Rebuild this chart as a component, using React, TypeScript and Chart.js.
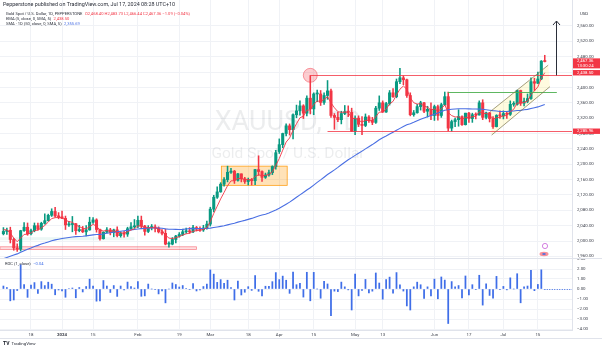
import React, { useEffect, useRef } from "react";
import { Chart, registerables } from "chart.js";
Chart.register(...registerables);

const FONT = "Roboto, 'Liberation Sans', Arial, sans-serif";
const UP = "#089981";
const DOWN = "#f23645";
const BLUE_SMA = "#4a6fe3";
const BLUE_ROC = "#3f6ee8";

// Trading sessions (daily bars)
const sessions = [
  "2023-12-06","2023-12-07","2023-12-08","2023-12-11","2023-12-12","2023-12-13","2023-12-14","2023-12-15",
  "2023-12-18","2023-12-19","2023-12-20","2023-12-21","2023-12-22","2023-12-26","2023-12-27","2023-12-28","2023-12-29",
  "2024-01-02","2024-01-03","2024-01-04","2024-01-05","2024-01-08","2024-01-09","2024-01-10","2024-01-11","2024-01-12",
  "2024-01-15","2024-01-16","2024-01-17","2024-01-18","2024-01-19","2024-01-22","2024-01-23","2024-01-24","2024-01-25",
  "2024-01-26","2024-01-29","2024-01-30","2024-01-31",
  "2024-02-01","2024-02-02","2024-02-05","2024-02-06","2024-02-07","2024-02-08","2024-02-09","2024-02-12","2024-02-13",
  "2024-02-14","2024-02-15","2024-02-16","2024-02-19","2024-02-20","2024-02-21","2024-02-22","2024-02-23","2024-02-26",
  "2024-02-27","2024-02-28","2024-02-29",
  "2024-03-01","2024-03-04","2024-03-05","2024-03-06","2024-03-07","2024-03-08","2024-03-11","2024-03-12","2024-03-13",
  "2024-03-14","2024-03-15","2024-03-18","2024-03-19","2024-03-20","2024-03-21","2024-03-22","2024-03-25","2024-03-26",
  "2024-03-27","2024-03-28",
  "2024-04-01","2024-04-02","2024-04-03","2024-04-04","2024-04-05","2024-04-08","2024-04-09","2024-04-10","2024-04-11",
  "2024-04-12","2024-04-15","2024-04-16","2024-04-17","2024-04-18","2024-04-19","2024-04-22","2024-04-23","2024-04-24",
  "2024-04-25","2024-04-26","2024-04-29","2024-04-30",
  "2024-05-01","2024-05-02","2024-05-03","2024-05-06","2024-05-07","2024-05-08","2024-05-09","2024-05-10","2024-05-13",
  "2024-05-14","2024-05-15","2024-05-16","2024-05-17","2024-05-20","2024-05-21","2024-05-22","2024-05-23","2024-05-24",
  "2024-05-27","2024-05-28","2024-05-29","2024-05-30","2024-05-31",
  "2024-06-03","2024-06-04","2024-06-05","2024-06-06","2024-06-07","2024-06-10","2024-06-11","2024-06-12","2024-06-13",
  "2024-06-14","2024-06-17","2024-06-18","2024-06-19","2024-06-20","2024-06-21","2024-06-24","2024-06-25","2024-06-26",
  "2024-06-27","2024-06-28",
  "2024-07-01","2024-07-02","2024-07-03","2024-07-04","2024-07-05","2024-07-08","2024-07-09","2024-07-10","2024-07-11",
  "2024-07-12","2024-07-15","2024-07-16","2024-07-17",
];

const opens = [
  2019,2025,2028,2004,1982,1979,2027,2036,2019,2027,2040,2031,2046,2053,2067,2077,2065,
  2063,2059,2042,2043,2045,2027,2030,2024,2029,2049,2055,2030,2006,2023,2029,2022,2029,2014,2020,2018,2032,2037,
  2039,2054,2039,2025,2035,2035,2034,2024,2020,1992,1992,2004,2013,2017,2024,2025,2024,2035,2031,2029,2034,
  2044,2083,2114,2128,2148,2160,2179,2182,2158,2175,2162,2155,2160,2157,2186,2181,2166,2172,2178,2194,
  2233,2251,2280,2300,2290,2329,2339,2352,2333,2372,2344,2383,2383,2361,2379,2391,2327,2322,2316,2332,2337,2335,
  2286,2320,2304,2301,2323,2314,2309,2346,2360,2336,2358,2386,2376,2415,2425,2420,2379,2329,2334,2350,2360,2338,2343,
  2327,2350,2327,2355,2376,2294,2311,2316,2324,2303,2333,2319,2329,2328,2360,2322,2334,2319,2298,2327,
  2326,2332,2330,2356,2356,2392,2359,2364,2371,2415,2411,2422,2468.4,
];
const highs = [
  2035,2034,2036,2007,1993,2028,2048,2047,2031,2047,2047,2049,2071,2070,2084,2088,2074,
  2078,2065,2051,2064,2046,2041,2038,2040,2062,2061,2058,2031,2024,2035,2033,2031,2037,2024,2025,2036,2048,2056,
  2065,2065,2041,2040,2043,2042,2037,2030,2031,1998,2009,2015,2022,2031,2034,2035,2041,2038,2037,2041,2052,
  2088,2119,2141,2152,2165,2195,2189,2184,2176,2175,2166,2164,2163,2187,2222,2183,2177,2185,2196,2236,
  2266,2281,2305,2305,2331,2354,2365,2355,2378,2431,2386,2393,2392,2386,2418,2396,2332,2335,2338,2353,2352,2346,
  2326,2326,2324,2331,2327,2322,2351,2378,2365,2361,2392,2397,2422,2450,2430,2422,2386,2340,2356,2364,2361,2351,2360,
  2354,2354,2359,2388,2388,2315,2320,2342,2326,2333,2335,2333,2334,2365,2368,2336,2335,2324,2329,2339,
  2339,2335,2365,2363,2393,2393,2372,2383,2425,2424,2440,2470,2483.73,
];
const lows = [
  2016,2017,1995,1976,1973,1974,2025,2015,2016,2024,2028,2028,2044,2052,2064,2062,2058,
  2058,2030,2038,2024,2017,2024,2022,2013,2028,2046,2023,2002,2005,2021,2016,2011,2011,2010,2010,2012,2030,2033,
  2035,2032,2015,2022,2029,2024,2021,2016,1990,1984,1990,1995,2010,2014,2020,2020,2022,2026,2025,2025,2031,
  2039,2076,2111,2127,2143,2154,2176,2150,2156,2154,2150,2146,2146,2147,2171,2155,2163,2169,2173,2187,
  2228,2243,2274,2276,2266,2321,2328,2319,2326,2331,2329,2363,2353,2356,2369,2322,2291,2311,2305,2329,2324,2285,
  2277,2298,2277,2298,2309,2303,2306,2340,2335,2335,2354,2374,2373,2410,2407,2374,2326,2325,2333,2341,2334,2323,2316,
  2314,2315,2322,2353,2287,2286,2298,2299,2301,2302,2309,2309,2318,2328,2316,2318,2310,2293,2297,2319,
  2318,2319,2327,2351,2354,2353,2352,2360,2369,2392,2410,2420,2466.44,
];
const closes = [
  2025,2028,2004,1982,1979,2027,2036,2019,2027,2040,2031,2046,2053,2067,2077,2065,2063,
  2059,2042,2043,2045,2027,2030,2024,2029,2049,2055,2030,2006,2023,2029,2022,2029,2014,2020,2018,2032,2037,2039,
  2054,2039,2025,2035,2035,2034,2024,2020,1992,1992,2004,2013,2017,2024,2025,2024,2035,2031,2029,2034,2044,
  2083,2114,2128,2148,2160,2179,2182,2158,2175,2162,2155,2160,2157,2186,2181,2166,2172,2178,2194,2230,
  2251,2280,2300,2290,2329,2339,2352,2333,2372,2344,2383,2383,2361,2379,2391,2327,2322,2316,2332,2337,2335,2286,
  2320,2304,2301,2323,2314,2309,2346,2360,2336,2358,2386,2376,2415,2425,2420,2379,2329,2334,2350,2360,2338,2343,2327,
  2350,2327,2355,2376,2294,2311,2316,2324,2303,2333,2319,2329,2328,2360,2322,2334,2319,2298,2327,2326,
  2332,2330,2356,2356,2392,2359,2364,2371,2415,2411,2422,2468.45,2467.36,
];
// closes of the 49 sessions before the first visible bar (seed for the 50-day SMA / EMA)
const priorCloses = [
  1864,1849,1828,1822,1822,1820,1833,1861,1860,1874,1868,1932,1920,1923,1947,1974,1981,1973,1970,1979,
  1985,2006,1996,1983,1982,1985,1992,1978,1969,1950,1958,1940,1946,1963,1959,1981,1981,1978,1998,1990,
  1992,2002,2014,2041,2044,2036,2072,2030,2019,
];

const tickIndex = [8, 17, 26, 39, 51, 60, 71, 80, 90, 102, 110, 125, 135, 145, 155];
const tickText = ["18", "2024", "15", "Feb", "19", "Mar", "18", "Apr", "15", "May", "13", "Jun", "17", "Jul", "15"];
const priceTicks = [1960, 2000, 2040, 2080, 2120, 2160, 2200, 2240, 2280, 2320, 2360, 2400, 2440, 2480, 2520, 2560];
const rocTicks = [-4, -3, -2, -1, 0, 1, 2, 3];

// drawings (in bar-index / price coordinates)
const resistance = { from: 89, to: 170, price: 2431.5 };
const support = { from: 94, to: 170, price: 2285.96 };
const greenLevel = { from: 128.9, to: 160.5, price: 2388 };
const consolidationBox = { from: 63.2, to: 82.3, low: 2145, high: 2195 };
const channelLower = [[141.6, 2276], [158.5, 2402]];
const channelUpper = [[141.2, 2337], [158.0, 2458]];
const pinkBand = { from: -1, to: 56, low: 1978, high: 1985 };
const greenBand = { from: -1, to: 38, low: 2002, high: 2010 };
const circleMark = { x: 89, price: 2431.5 };
const arrowMark = { x: 160.2, from: 2431.5, to: 2573 };

const headerLine = "Pepperstone published on TradingView.com, Jul 17, 2024 08:28 UTC+10";
const symbolTitle = "Gold Spot / U.S. Dollar, 1D, PEPPERSTONE";
const ohlcText = "O2,468.40 H2,483.73 L2,466.44 C2,467.36 \u22121.09 (\u22120.04%)";
const emaTitle = "EMA (5, close, 0, SMA, 5)";
const emaValueText = "2,438.50";
const smaTitle = "SMA \u00b7 1D (50, close, 0, SMA, 5)";
const smaValueText = "2,355.69";
const rocTitle = "ROC (1, close)";
const rocValueText = "\u22120.04";

const X_MIN = -0.99;
const X_MAX = 164.9;

const fmtPrice = (v: number) =>
  v.toLocaleString("en-US", { minimumFractionDigits: 2, maximumFractionDigits: 2 });
const fmtRoc = (v: number) => (v < 0 ? "\u2212" : "") + Math.abs(v).toFixed(2);

// indicators
const allCloses = [...priorCloses, ...closes];
const P = priorCloses.length;
const sma50 = closes.map((_, i) => {
  const end = P + i;
  let s = 0;
  for (let k = end - 49; k <= end; k++) s += allCloses[k];
  return s / 50;
});
const emaAll: number[] = [];
{
  let e = (allCloses[0] + allCloses[1] + allCloses[2] + allCloses[3] + allCloses[4]) / 5;
  for (let k = 0; k < allCloses.length; k++) {
    if (k >= 5) e = e + (allCloses[k] - e) / 3;
    emaAll.push(e);
  }
}
const ema5 = closes.map((_, i) => emaAll[P + i]);
const roc = closes.map((c, i) => {
  const prev = i === 0 ? priorCloses[P - 1] : closes[i - 1];
  return ((c - prev) / prev) * 100;
});

function xScale(showLabels: boolean): any {
  return {
    type: "linear",
    min: X_MIN,
    max: X_MAX,
    offset: false,
    afterBuildTicks: (s: any) => {
      s.ticks = tickIndex.map((v) => ({ value: v }));
    },
    afterFit: (s: any) => {
      s.paddingLeft = 0;
      s.paddingRight = 0;
      s.height = showLabels ? 20 : 0;
    },
    grid: { color: "#f0f2f6", drawTicks: false, offset: false, lineWidth: 1 },
    border: { display: false },
    ticks: {
      display: showLabels,
      autoSkip: false,
      maxRotation: 0,
      padding: 2,
      color: "#3b3f4a",
      font: (ctx: any) => ({ family: FONT, size: 4.4, weight: ctx.index === 1 ? "bold" : "normal" }),
      callback: (_v: any, i: number) => tickText[i] ?? "",
    },
  };
}

function yScale(min: number, max: number, ticks: number[], fmt: (v: number) => string): any {
  return {
    type: "linear",
    position: "right",
    min,
    max,
    afterBuildTicks: (s: any) => {
      s.ticks = ticks.map((v) => ({ value: v }));
    },
    afterFit: (s: any) => {
      s.width = 30;
      s.paddingTop = 0;
      s.paddingBottom = 0;
    },
    grid: { color: "#f0f2f6", drawTicks: false },
    border: { display: true, color: "#e0e3eb" },
    ticks: {
      autoSkip: false,
      padding: 5,
      color: "#3b3f4a",
      font: { family: FONT, size: 4.4 },
      callback: (v: any) => fmt(Number(v)),
    },
  };
}

function drawAxisLabel(ctx: CanvasRenderingContext2D, left: number, top: number, h: number, lines: string[], bg: string) {
  ctx.fillStyle = bg;
  ctx.fillRect(left, top, 602 - left - 2, h);
  ctx.fillStyle = "#ffffff";
  ctx.font = `4.3px ${FONT}`;
  ctx.textAlign = "left";
  ctx.textBaseline = "middle";
  const step = h / lines.length;
  lines.forEach((t, k) => ctx.fillText(t, left + 4, top + step * (k + 0.5) + 0.2));
}

const mainDecor = {
  id: "mainDecor",
  beforeDatasetsDraw(chart: any) {
    const { ctx, chartArea: a, scales } = chart;
    const x = scales.x, y = scales.y;
    ctx.save();
    ctx.beginPath();
    ctx.rect(a.left, a.top, a.right - a.left, a.bottom - a.top);
    ctx.clip();
    // watermark
    ctx.fillStyle = "rgba(19,23,34,0.08)";
    ctx.textAlign = "center";
    ctx.textBaseline = "alphabetic";
    const cx = (a.left + a.right) / 2 + 2;
    ctx.font = `27px ${FONT}`;
    ctx.fillText("XAUUSD, 1D", cx, 130);
    ctx.font = `15.5px ${FONT}`;
    ctx.fillText("Gold Spot / U.S. Dollar", cx, 158);
    // bands
    const band = (b: any, fill: string, stroke: string | null) => {
      const x1 = x.getPixelForValue(b.from), x2 = x.getPixelForValue(b.to);
      const y1 = y.getPixelForValue(b.high), y2 = y.getPixelForValue(b.low);
      ctx.fillStyle = fill;
      ctx.fillRect(x1, y1, x2 - x1, y2 - y1);
      if (stroke) {
        ctx.strokeStyle = stroke;
        ctx.lineWidth = 0.8;
        ctx.strokeRect(x1, y1, x2 - x1, y2 - y1);
      }
    };
    band(greenBand, "rgba(8,153,129,0.08)", null);
    band(pinkBand, "rgba(242,54,69,0.16)", "rgba(242,54,69,0.55)");
    band(consolidationBox, "rgba(255,152,0,0.28)", "rgba(255,152,0,0.9)");
    // channel fill
    const px = (p: number[]) => [x.getPixelForValue(p[0]), y.getPixelForValue(p[1])];
    const l0 = px(channelLower[0]), l1 = px(channelLower[1]);
    const u0 = px(channelUpper[0]), u1 = px(channelUpper[1]);
    ctx.fillStyle = "rgba(255,235,110,0.22)";
    ctx.beginPath();
    ctx.moveTo(l0[0], l0[1]);
    ctx.lineTo(l1[0], l1[1]);
    ctx.lineTo(u1[0], u1[1]);
    ctx.lineTo(u0[0], u0[1]);
    ctx.closePath();
    ctx.fill();
    ctx.restore();
  },
  afterDatasetsDraw(chart: any) {
    const { ctx, chartArea: a, scales } = chart;
    const x = scales.x, y = scales.y;
    ctx.save();
    ctx.beginPath();
    ctx.rect(a.left, a.top, a.right - a.left, a.bottom - a.top);
    ctx.clip();
    const hline = (l: any, color: string) => {
      const yy = Math.round(y.getPixelForValue(l.price)) + 0.5;
      ctx.strokeStyle = color;
      ctx.lineWidth = 1;
      ctx.beginPath();
      ctx.moveTo(x.getPixelForValue(l.from), yy);
      ctx.lineTo(x.getPixelForValue(l.to), yy);
      ctx.stroke();
    };
    hline(resistance, "rgba(242,54,69,0.8)");
    hline(support, "rgba(242,54,69,0.8)");
    hline(greenLevel, "rgba(76,175,80,0.9)");
    // channel lines
    const px = (p: number[]) => [x.getPixelForValue(p[0]), y.getPixelForValue(p[1])];
    ctx.strokeStyle = "rgba(120,112,70,0.85)";
    ctx.lineWidth = 0.8;
    [channelLower, channelUpper].forEach((ln) => {
      const p0 = px(ln[0]), p1 = px(ln[1]);
      ctx.beginPath();
      ctx.moveTo(p0[0], p0[1]);
      ctx.lineTo(p1[0], p1[1]);
      ctx.stroke();
    });
    // circle mark
    const ccx = x.getPixelForValue(circleMark.x), ccy = y.getPixelForValue(circleMark.price);
    ctx.fillStyle = "rgba(242,54,69,0.25)";
    ctx.strokeStyle = "rgba(242,54,69,0.6)";
    ctx.beginPath();
    ctx.arc(ccx, ccy, 7, 0, Math.PI * 2);
    ctx.fill();
    ctx.stroke();
    // arrow
    const ax = Math.round(x.getPixelForValue(arrowMark.x)) + 0.5;
    const ay0 = y.getPixelForValue(arrowMark.from), ay1 = y.getPixelForValue(arrowMark.to);
    ctx.strokeStyle = "#2a2e39";
    ctx.lineWidth = 1;
    ctx.beginPath();
    ctx.moveTo(ax, ay0);
    ctx.lineTo(ax, ay1);
    ctx.moveTo(ax - 3.5, ay1 + 4);
    ctx.lineTo(ax, ay1);
    ctx.lineTo(ax + 3.5, ay1 + 4);
    ctx.stroke();
    // event markers
    ctx.strokeStyle = "rgba(190,70,210,0.85)";
    ctx.lineWidth = 0.8;
    ctx.beginPath();
    ctx.arc(545, 246, 2.6, 0, Math.PI * 2);
    ctx.stroke();
    ctx.fillStyle = "rgba(242,54,69,0.55)";
    ctx.beginPath();
    ctx.ellipse(544, 254, 4.5, 2.2, 0, 0, Math.PI * 2);
    ctx.fill();
    ctx.fillStyle = "rgba(63,110,232,0.8)";
    ctx.fillRect(542.5, 253, 3, 2);
    ctx.restore();
  },
  afterDraw(chart: any) {
    const { ctx, chartArea: a, scales } = chart;
    const y = scales.y;
    ctx.save();
    ctx.textAlign = "left";
    ctx.textBaseline = "middle";
    ctx.fillStyle = "#2a2e39";
    ctx.font = `5.4px ${FONT}`;
    ctx.fillText(headerLine, 3, 5);
    const seg = (x0: number, yy: number, parts: [string, string][]) => {
      let xx = x0;
      ctx.font = `4.1px ${FONT}`;
      parts.forEach(([t, c]) => {
        ctx.fillStyle = c;
        ctx.fillText(t, xx, yy);
        xx += ctx.measureText(t).width + 2.5;
      });
    };
    seg(6, 14, [[symbolTitle, "#2a2e39"], [ohlcText, DOWN]]);
    seg(6, 19.2, [[emaTitle, "#2a2e39"], [emaValueText, DOWN]]);
    seg(6, 24.4, [[smaTitle, "#2a2e39"], [smaValueText, BLUE_SMA]]);
    // USD
    ctx.fillStyle = "#2a2e39";
    ctx.font = `4.3px ${FONT}`;
    ctx.fillText("USD", 580, 14);
    // axis price labels
    const L = a.right + 1;
    const pLast = y.getPixelForValue(closes[closes.length - 1]);
    drawAxisLabel(ctx, L, pLast - 3.2, 10, [fmtPrice(closes[closes.length - 1]), "13:30:24"], DOWN);
    const pEma = Math.max(y.getPixelForValue(2438.5), pLast + 7.5);
    drawAxisLabel(ctx, L, pEma - 2.6, 5.4, [emaValueText], DOWN);
    const pSup = y.getPixelForValue(support.price);
    drawAxisLabel(ctx, L, pSup - 2.7, 5.4, [fmtPrice(support.price)], DOWN);
    ctx.restore();
  },
};

const rocDecor = {
  id: "rocDecor",
  afterDraw(chart: any) {
    const { ctx, chartArea: a, scales } = chart;
    const x = scales.x, y = scales.y;
    ctx.save();
    ctx.strokeStyle = "#e0e3eb";
    ctx.lineWidth = 1;
    ctx.beginPath();
    ctx.moveTo(0, 0.5);
    ctx.lineTo(602, 0.5);
    ctx.moveTo(0, Math.round(a.bottom) + 0.5);
    ctx.lineTo(a.right, Math.round(a.bottom) + 0.5);
    ctx.moveTo(0, 80.5);
    ctx.lineTo(602, 80.5);
    ctx.stroke();
    // last value dotted line
    const last = roc[roc.length - 1];
    const yy = Math.round(y.getPixelForValue(last)) + 0.5;
    ctx.strokeStyle = BLUE_ROC;
    ctx.setLineDash([1, 1.5]);
    ctx.beginPath();
    ctx.moveTo(x.getPixelForValue(roc.length - 1) + 2, yy);
    ctx.lineTo(a.right, yy);
    ctx.stroke();
    ctx.setLineDash([]);
    // title
    ctx.textAlign = "left";
    ctx.textBaseline = "middle";
    ctx.font = `4.1px ${FONT}`;
    ctx.fillStyle = "#2a2e39";
    ctx.fillText(rocTitle, 5, 6);
    const w = ctx.measureText(rocTitle).width;
    ctx.fillStyle = BLUE_ROC;
    ctx.fillText(rocValueText, 5 + w + 2.5, 6);
    // TradingView logo
    ctx.fillStyle = "#131722";
    ctx.font = `bold 5px ${FONT}`;
    ctx.fillText("TV", 3, 86);
    ctx.font = `4.4px ${FONT}`;
    ctx.fillStyle = "#2a2e39";
    ctx.fillText("TradingView", 11.5, 86);
    ctx.restore();
  },
};

export default function App() {
  const mainRef = useRef<HTMLCanvasElement | null>(null);
  const rocRef = useRef<HTMLCanvasElement | null>(null);

  useEffect(() => {
    document.body.style.margin = "0";
    const colors = opens.map((o, i) => (closes[i] >= o ? UP : DOWN));
    const bodyData = opens.map((o, i) => ({ x: i, y: [Math.min(o, closes[i]), Math.max(o, closes[i])] }));
    const wickData = lows.map((l, i) => ({ x: i, y: [l, highs[i]] }));

    const main = new Chart(mainRef.current as HTMLCanvasElement, {
      type: "bar",
      data: {
        datasets: [
          {
            type: "line",
            label: "EMA 5",
            data: ema5.map((v, i) => ({ x: i, y: v })),
            borderColor: "#f23645",
            borderWidth: 0.9,
            pointRadius: 0,
            order: 0,
          } as any,
          {
            type: "line",
            label: "SMA 50",
            data: sma50.map((v, i) => ({ x: i, y: v })),
            borderColor: BLUE_SMA,
            borderWidth: 1.1,
            pointRadius: 0,
            order: 0,
          } as any,
          {
            type: "bar",
            label: "body",
            data: bodyData as any,
            backgroundColor: colors,
            barThickness: 2.4,
            minBarLength: 1,
            grouped: false,
            order: 1,
          } as any,
          {
            type: "bar",
            label: "wick",
            data: wickData as any,
            backgroundColor: colors,
            barThickness: 0.9,
            grouped: false,
            order: 2,
          } as any,
        ],
      },
      options: {
        responsive: false,
        animation: false,
        events: [],
        layout: { autoPadding: false, padding: 0 },
        plugins: { legend: { display: false }, tooltip: { enabled: false } },
        scales: {
          x: xScale(false),
          y: yScale(1955.8, 2627.7, priceTicks, fmtPrice),
        },
      } as any,
      plugins: [mainDecor],
    });

    const rocChart = new Chart(rocRef.current as HTMLCanvasElement, {
      type: "bar",
      data: {
        datasets: [
          {
            label: "ROC",
            data: roc.map((v, i) => ({ x: i, y: v })) as any,
            backgroundColor: BLUE_ROC,
            barThickness: 1.1,
          } as any,
        ],
      },
      options: {
        responsive: false,
        animation: false,
        events: [],
        layout: { autoPadding: false, padding: 0 },
        plugins: { legend: { display: false }, tooltip: { enabled: false } },
        scales: {
          x: xScale(true),
          y: yScale(-4.1, 3.1, rocTicks, fmtRoc),
        },
      } as any,
      plugins: [rocDecor],
    });

    return () => {
      main.destroy();
      rocChart.destroy();
    };
  }, []);

  return (
    <div style={{ width: 602, height: 350, background: "#ffffff", position: "relative" }}>
      <canvas ref={mainRef} width={602} height={258} style={{ display: "block" }} />
      <canvas ref={rocRef} width={602} height={92} style={{ display: "block" }} />
    </div>
  );
}
